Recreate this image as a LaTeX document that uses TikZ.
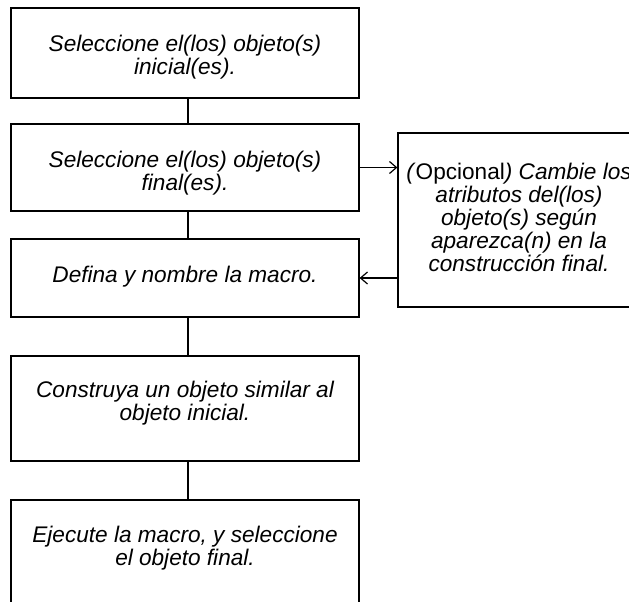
\documentclass[tikz,border=0pt]{standalone}
\usepackage{fontspec}
\setmainfont{Liberation Sans}
\usetikzlibrary{arrows.meta}
\begin{document}
\begin{tikzpicture}[x=1pt,y=1pt,
  box/.style={draw, line width=1.2pt, minimum width=348pt, inner sep=0pt},
  txt/.style={align=center, font=\fontsize{22.6}{23}\selectfont\itshape, inner sep=0pt},
  conn/.style={line width=1.2pt},
  arr/.style={line width=1.2pt, -{Straight Barb[length=7pt,width=12pt,line width=1.2pt]}}]
\useasboundingbox (0,0) rectangle (629,602);
\clip (0,0) rectangle (629,602);
\node[box, minimum height=90pt] (b1) at (185,549) {};
\node[box, minimum height=87pt] (b2) at (185,434.5) {};
\node[box, minimum height=78pt] (b3) at (185,324) {};
\node[box, minimum height=105pt] (b4) at (185,193.5) {};
\node[box, minimum height=112pt] (b5) at (185,46) {};
\node[draw, line width=1.2pt, minimum width=242pt, minimum height=174pt, inner sep=0pt] (r) at (519,382) {};
\node[txt] (t1) at (185,544.5) {Seleccione el(los) objeto(s)\\inicial(es).};
\node[txt] (t2) at (185,428.5) {Seleccione el(los) objeto(s)\\final(es).};
\node[txt] (t3) at (185,325) {Defina y nombre la macro.};
\node[txt] (t4) at (185,198.5) {Construya un objeto similar al\\objeto inicial.};
\node[txt] (t5) at (185,53.5) {Ejecute la macro, y seleccione\\el objeto final.};
\node[txt] (tr) at (519,385) {(\textup{Opcional}) Cambie los\\atributos del(los)\\objeto(s) según\\aparezca(n) en la\\construcción final.};
\draw[conn] ([xshift=3pt]b1.south) -- ([xshift=3pt]b2.north);
\draw[conn] ([xshift=3pt]b2.south) -- ([xshift=3pt]b3.north);
\draw[conn] ([xshift=3pt]b3.south) -- ([xshift=3pt]b4.north);
\draw[conn] ([xshift=3pt]b4.south) -- ([xshift=3pt]b5.north);
\draw[arr] (b2.east) -- (b2.east -| r.west);
\draw[arr] (b3.east -| r.west) -- (b3.east);
\end{tikzpicture}
\end{document}
